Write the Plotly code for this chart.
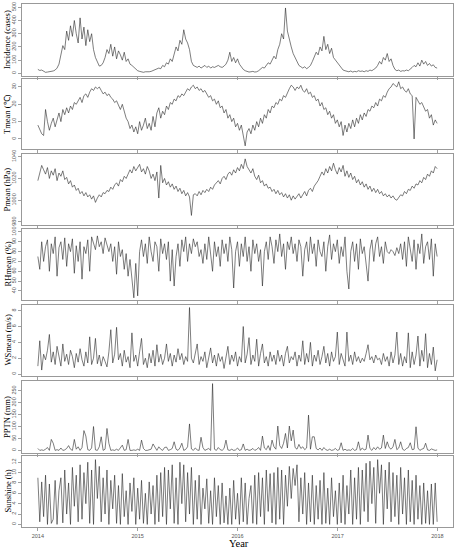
import pandas as pd
import plotly.graph_objects as go

# ---------------- data (weekly readings, 2014-01 .. 2017-12) ----------------
incidence = [30, 22, 25, 15, 8, 10, 12, 15, 18, 25, 40,
             70, 130, 210, 180,
             320, 250, 360, 280, 400, 300, 230, 420, 260, 350, 210, 330, 240, 300,
             180, 120, 80, 55, 60,
             80, 120, 180, 150, 220, 130, 200, 110, 170, 140, 100, 160, 90, 110, 70, 60, 45,
             30,
             20, 15, 10, 8, 12, 10,
             12, 15, 20, 25, 30, 40, 35,
             60, 50, 80, 70, 110, 90,
             150, 200, 170, 250, 220, 330, 260, 230, 180,
             90, 60,
             50, 45, 55, 40, 50, 60, 45, 55, 40, 50, 45, 55, 60, 50, 45, 55,
             70, 100, 160, 90, 120, 80, 110, 70, 50,
             30, 20, 15, 10, 12, 15, 10, 12, 20,
             30, 45, 40, 60, 80, 70, 100, 130, 110,
             180, 220, 300, 260, 495, 320,
             250, 200, 150, 120, 90, 60, 50,
             40, 50, 35, 45, 60, 90,
             120, 160, 140, 200, 170, 280, 180, 220, 150, 190, 120,
             100, 80, 60, 40, 25, 20,
             15, 12, 18, 10, 15, 12, 20, 15, 18, 12, 20, 15, 25, 20, 30, 40,
             60, 90, 70, 120, 100, 150, 90, 110, 60,
             30, 20, 25, 15, 20, 18, 25, 20, 30,
             45, 60, 50, 80, 55, 100, 70, 90, 60, 75, 55, 65, 45, 40]

tmean = [8, 5, 3, 2, 17, 10, 5, 9, 12, 7, 11,
         15, 10, 17, 14, 18, 15, 19, 17, 21, 20,
         22, 24, 21, 25, 26, 24, 27, 29, 28, 30,
         29, 30, 28, 26, 27, 25, 26, 24, 23, 21,
         22, 19, 17, 20, 15, 12, 10, 6, 8, 4, 7,
         3, 10, 5, 8, 12, 6, 9, 5, 13, 7, 15,
         18, 12, 16, 14, 19, 17, 21, 20, 23, 22, 25,
         24, 26, 25, 27, 29, 28, 30, 31, 29, 30, 28,
         29, 27, 28, 26, 24, 25, 22, 23, 20, 22, 18,
         19, 15, 17, 12, 14, 10, 12, 7, 9, 5, 8, 2,
         -4, 4, 6, 3, 8, 5, 10, 7, 12,
         9, 14, 12, 17, 15, 19, 18, 21, 20, 23, 22, 25, 24, 27,
         29, 31, 30, 28, 30, 29, 31, 28, 27, 29, 26,
         27, 24, 25, 22, 23, 19, 21, 17, 18, 14, 16,
         12, 14, 9, 11, 7, 10, 2, 8, 4, 9,
         6, 11, 7, 12, 9, 14, 11, 15, 13, 17,
         16, 19, 18, 21, 19, 23, 22, 25, 24, 27, 29,
         30, 32, 31, 30, 33, 29, 30, 28, 27, 29, 26, 25, 0,
         24, 22, 20, 21, 18, 16, 17, 12, 14, 8, 11, 9]

pmean = [1018, 1026, 1032, 1028, 1024, 1030, 1020, 1027, 1023, 1029, 1018, 1025, 1022, 1027, 1019,
         1021, 1015, 1018, 1012, 1014, 1009, 1011, 1006, 1008, 1004, 1007, 1003, 1005, 1001, 1004, 998,
         1002, 1005, 1003, 1007, 1006, 1009, 1008, 1012, 1010, 1014, 1016, 1013, 1019, 1017, 1022, 1020, 1024,
         1028, 1025, 1031, 1027, 1030, 1033, 1026, 1029, 1024, 1031, 1027,
         1020, 1024, 1018, 1026, 1002, 1032, 1016, 1020, 1014,
         1017, 1012, 1015, 1010, 1013, 1008, 1011, 1006, 1009, 1004, 1007, 1003, 986, 1005,
         1006, 1004, 1008, 1005, 1009, 1007, 1010, 1008, 1012, 1010, 1014, 1016,
         1018, 1015, 1020, 1022, 1019, 1024, 1026, 1023, 1028, 1025, 1030, 1027, 1033, 1029, 1038, 1031, 1028,
         1025, 1029, 1022, 1019, 1023, 1016, 1018, 1013, 1015, 1011, 1012, 1008, 1010, 1006, 1009, 1005, 1007,
         1003, 1006, 1002, 1005, 1000, 1004, 1001, 1003, 1006, 1002, 1005, 1008, 1004, 1009, 1011, 1008, 1013, 1015, 1018,
         1022, 1026, 1023, 1029, 1025, 1031, 1027, 1034, 1028, 1024, 1030, 1026, 1032, 1022, 1027, 1021, 1025, 1019, 1022,
         1016, 1019, 1014, 1017, 1012, 1015, 1010, 1013, 1008, 1011, 1007, 1010, 1006, 1008, 1004, 1006, 1003, 1005, 1002, 1004, 1001, 1000, 1003, 1005,
         1004, 1008, 1006, 1010, 1009, 1013, 1011, 1015, 1014, 1018, 1016, 1021, 1019, 1024, 1022, 1027, 1025, 1031, 1029]

rhmean = [75, 62, 90, 70, 85, 92, 60, 88, 78, 95, 55, 84, 90, 72, 94, 65, 88, 80, 93, 58, 86,
          70, 90, 52, 85, 78, 92, 60, 95, 88, 82, 96, 85, 90, 78, 94, 87, 80,
          88, 70, 85, 57, 90, 75, 82, 62, 78, 55, 72, 48, 33, 68, 35, 80,
          92, 75, 88, 68, 95, 80, 70, 90, 85, 60, 93, 78, 88, 72, 90,
          50, 82, 45, 75, 88, 65, 92, 80, 95, 70, 88, 78, 93, 85, 90, 75, 82,
          68, 88, 72, 95, 80, 60, 90, 75, 85, 65, 92, 78, 88, 70, 95, 82,
          43, 80, 90, 65, 88, 75, 95, 70, 85, 60, 92, 78, 88, 70, 82, 45, 80,
          90, 72, 95, 85, 68, 92, 80, 98, 75, 88, 62, 90, 82, 95, 78, 88, 70, 92, 85,
          55, 82, 90, 70, 95, 78, 88, 65, 92, 80, 75, 90, 60, 85, 97, 72, 88, 80,
          92, 68, 85, 75, 95, 60, 42, 80, 90, 70, 88, 62, 93, 78, 85, 65, 50,
          82, 92, 70, 88, 95, 75, 85, 68, 90, 80, 78, 82, 80, 76, 84, 78, 88, 72,
          90, 65, 95, 80, 70, 92, 62, 88, 78, 98, 68, 85, 90, 72, 93, 55, 88, 75]

wsmean = [1.0, 4.2, 0.5, 2.5, 1.8, 3.0, 5.0, 1.5, 2.8, 1.2, 3.5, 2.0, 1.0, 3.8, 1.6, 2.5, 1.2, 3.0, 2.2, 0.8, 2.6,
          1.5, 3.2, 1.8, 1.0, 2.8, 1.4, 4.7, 1.2, 2.0, 4.5, 1.3, 2.4, 1.0, 2.2, 1.6, 0.9, 2.8, 5.6, 1.4, 2.5, 5.9,
          1.8, 2.6, 1.0, 3.0, 1.5, 2.2, 0.8, 5.2, 1.6, 2.4, 1.0, 2.8, 4.5, 1.2, 2.0, 0.8, 2.6, 1.4, 3.0, 1.0, 3.7,
          1.5, 2.5, 1.2, 2.0, 3.8, 1.6, 2.6, 1.0, 2.4, 1.5, 3.2, 1.8, 2.6, 1.2, 2.2, 1.6, 8.4, 2.0, 1.4, 2.6, 3.8,
          1.2, 2.2, 1.6, 2.8, 0.8, 2.0, 3.3, 1.4, 2.4, 1.0, 2.6, 1.6, 2.2, 0.7, 2.0, 3.5, 1.2, 2.4, 1.6, 2.8, 1.0,
          2.2, 1.5, 6.0, 1.4, 2.5, 4.6, 1.2, 2.4, 1.6, 4.4, 1.0, 2.6, 3.8, 1.4, 2.2, 1.0, 2.8, 1.6, 2.4, 1.2, 3.0,
          1.6, 2.4, 1.0, 2.6, 3.5, 1.4, 2.2, 1.8, 2.8, 1.0, 2.4, 1.6, 4.2, 1.2, 2.6, 1.5, 4.0, 1.0, 2.4, 1.6, 3.0,
          1.2, 2.2, 3.5, 1.4, 2.6, 1.0, 2.8, 1.6, 2.2, 5.3, 1.2, 2.6, 1.8, 1.0, 5.3, 1.6, 2.4, 1.2, 2.8, 1.6, 2.2,
          1.4, 2.0, 1.6, 2.6, 3.7, 1.8, 2.2, 1.4, 2.4, 1.8, 2.0, 1.2, 2.6, 1.6, 2.2, 1.0, 2.8, 1.4, 2.4, 5.3, 1.2,
          2.6, 1.0, 2.2, 1.4, 5.2, 0.8, 2.8, 1.2, 2.4, 4.8, 1.0, 3.0, 1.6, 5.1, 0.8, 2.6, 1.2, 3.4, 0.4, 1.8]

pptn = [8, 0, 2, 0, 5, 12, 0, 46, 30, 0, 3, 0, 10, 0, 2, 8, 20, 5, 0, 46,
        5, 15, 0, 12, 83, 60, 3, 0, 10, 100, 2, 0, 15, 57, 0, 5, 92, 30, 0, 2,
        0, 5, 0, 10, 22, 0, 3, 46, 0, 0, 2, 0, 5, 0, 43, 8, 0, 0, 2, 5,
        27, 10, 0, 15, 5, 0, 12, 14, 0, 3, 8, 36, 5, 0, 10, 30, 0, 4, 15, 111,
        6, 0, 10, 2, 0, 55, 12, 0, 3, 8, 0, 280, 5, 0, 12, 3, 0, 8, 43, 2,
        0, 5, 0, 2, 10, 0, 3, 27, 0, 5, 0, 2, 8, 0, 4, 12, 0, 60, 10, 3,
        20, 0, 43, 15, 5, 102, 20, 8, 30, 71, 10, 102, 40, 85, 12, 5, 25, 8, 15, 3,
        10, 148, 5, 57, 57, 8, 2, 10, 0, 12, 3, 0, 5, 0, 2, 8, 0, 3, 32, 0,
        5, 0, 2, 0, 8, 0, 3, 36, 0, 10, 2, 5, 64, 8, 0, 12, 3, 15, 5, 10,
        64, 8, 36, 12, 5, 15, 46, 3, 10, 36, 5, 0, 8, 12, 32, 3, 5, 99, 10, 0,
        5, 8, 30, 2, 0, 6, 3, 0, 2]

sunshine = [9.0, 0.5, 8.2, 1.5, 9.5, 0, 7.8, 0.2, 1.0, 8.5, 0, 6.5, 9.0, 0.3, 10.5, 2.0, 8.0, 0, 11.0, 3.5, 9.5,
            0.5, 11.5, 1.0, 10.0, 4.0, 12.0, 0.2, 10.5, 0, 12.5, 5.0, 11.2, 0.5, 9.0, 2.0, 10.5, 0, 8.5, 3.0, 9.5, 0.2,
            7.5, 0, 9.8, 1.5, 6.5, 0, 8.0, 2.5, 9.0, 0, 7.0, 1.0, 8.5, 0.2, 6.0, 0, 8.2, 2.0, 7.5, 0, 9.5,
            0.5, 10.0, 1.5, 11.0, 0, 10.5, 3.0, 11.5, 0.2, 9.0, 0, 12.0, 4.0, 11.5, 0.5, 10.0, 2.0, 11.0, 0, 8.5, 1.0,
            9.5, 0, 7.0, 3.0, 8.8, 0.2, 6.5, 0, 9.0, 1.5, 7.5, 0, 8.0, 0.3, 5.5, 0, 7.0, 0, 8.5, 1.0, 6.0,
            0, 9.0, 0.5, 8.0, 0, 5.0, 7.5, 0.2, 9.5, 0, 10.0, 1.5, 9.0, 0, 10.5, 2.5, 9.8, 0.3, 10.0, 0, 11.0,
            1.0, 10.5, 0, 9.5, 3.5, 11.2, 5.0, 10.8, 7.5, 11.5, 0.5, 9.0, 2.0, 10.0, 0, 8.0, 0.5, 9.5, 0, 7.5, 1.0,
            8.5, 0, 10.0, 0.2, 7.0, 0, 9.0, 1.5, 6.5, 0, 8.0, 0.3, 9.5, 0, 7.5, 2.0, 10.5, 0, 9.0, 1.0, 11.0,
            0, 10.5, 2.5, 11.8, 0.5, 12.2, 4.0, 11.0, 0.2, 12.5, 6.0, 11.5, 0, 10.5, 3.0, 12.0, 0.5, 10.0, 1.5, 9.5, 0,
            11.0, 2.0, 9.0, 0, 10.5, 0.5, 8.5, 0, 9.5, 1.0, 7.5, 0, 8.0, 0.2, 6.5, 0, 7.8, 0, 8.0, 0.5]

titles = ["Incidence (cases)", "Tmean (\u2103)", "Pmean (hPa)", "RHmean (%)",
          "WSmean (m/s)", "PPTN (mm)", "Sunshine (h)"]
y_ticks = [[0, 100, 200, 300, 400, 500], [0, 10, 20, 30], [980, 1000, 1020, 1040],
           [40, 50, 60, 70, 80, 90, 100], [0, 2, 4, 6, 8], [0, 50, 100, 150, 200, 250],
           [0, 2, 4, 6, 8, 10, 12]]
y_ranges = [[-20, 525], [-5.8, 34.6], [977.2, 1042.5], [30.8, 103], [-0.25, 8.72],
            [-11, 291], [-0.5, 13.2]]
year_ticks = ["2014-01-01", "2015-01-01", "2016-01-01", "2017-01-01", "2018-01-01"]
year_labels = ["2014", "2015", "2016", "2017", "2018"]

series = [incidence, tmean, pmean, rhmean, wsmean, pptn, sunshine]

# ---------------- layout geometry ----------------
W, H = 458, 550
ML, MR, MT, MB = 22, 5, 4, 23
panel_px = [(4, 76), (79, 149), (154, 225), (229, 300), (305, 376), (381, 453), (456, 527)]
PH = H - MT - MB
PW = W - ML - MR

fig = go.Figure()
layout = dict(
    width=W, height=H,
    margin=dict(l=ML, r=MR, t=MT, b=MB, autoexpand=False),
    paper_bgcolor="white", plot_bgcolor="white",
    showlegend=False, hovermode=False,
)
annotations = []
tick_font = dict(family="Liberation Sans, Arial, sans-serif", size=5.5, color="#555555")
title_font = dict(family="Liberation Serif, Times New Roman, serif", size=8.5, color="#000000")

for k, vals in enumerate(series):
    n = k + 1
    dates = pd.date_range("2014-01-01", "2017-12-31", periods=len(vals))
    fig.add_trace(go.Scatter(x=dates, y=vals, mode="lines",
                             line=dict(color="#262626", width=0.6),
                             xaxis=f"x{n}", yaxis=f"y{n}", hoverinfo="skip"))
    top, bot = panel_px[k]
    dom = [(H - MB - bot) / PH, (H - MB - top) / PH]
    sfx = "" if n == 1 else str(n)
    layout[f"xaxis{sfx}"] = dict(
        type="date", range=["2013-11-04", "2018-02-27"], domain=[0, 1],
        anchor=f"y{n}", tickvals=year_ticks, ticktext=year_labels,
        showticklabels=(n == 7), ticks="outside", ticklen=3, tickwidth=0.8,
        tickcolor="#888", showline=True, mirror=True, linecolor="#999",
        linewidth=1, showgrid=False, zeroline=False, tickfont=tick_font,
        automargin=False, fixedrange=True,
    )
    layout[f"yaxis{sfx}"] = dict(
        range=y_ranges[k], domain=dom, anchor=f"x{n}", tickvals=y_ticks[k],
        tickangle=-90, ticks="outside", ticklen=3, tickwidth=0.8, tickcolor="#888",
        showline=True, mirror=True, linecolor="#999", linewidth=1,
        showgrid=False, zeroline=False, tickfont=tick_font, automargin=False,
        fixedrange=True,
    )
    annotations.append(dict(
        text=titles[k], xref="paper", yref="paper",
        x=(7 - ML) / PW, y=(dom[0] + dom[1]) / 2, xanchor="center", yanchor="middle",
        textangle=-90, showarrow=False, font=title_font,
    ))

annotations.append(dict(
    text="Year", xref="paper", yref="paper",
    x=(239 - ML) / PW, y=(H - MB - 543) / PH, xanchor="center", yanchor="middle",
    showarrow=False, font=dict(family="Liberation Serif, Times New Roman, serif", size=10.5, color="#000000"),
))
layout["annotations"] = annotations
fig.update_layout(**layout)
fig.write_html("out.html", config={"displayModeBar": False, "staticPlot": True},
               post_script="document.body.style.margin='0px';document.body.style.overflow='hidden';")
